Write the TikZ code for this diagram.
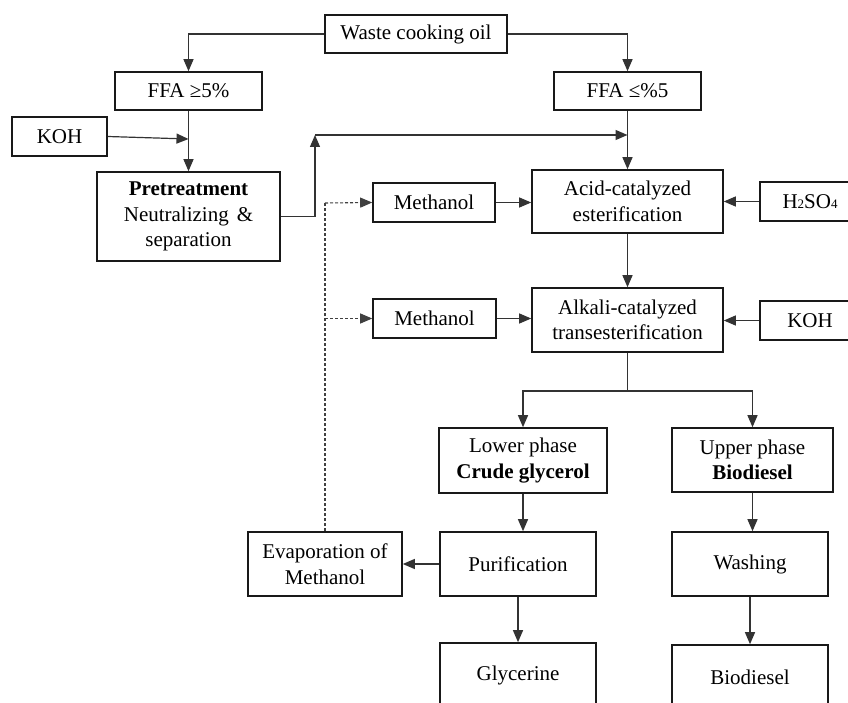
\documentclass[tikz,border=0pt]{standalone}
\usepackage{fontspec}
\setmainfont{Liberation Serif}
\usetikzlibrary{arrows.meta}
\tikzset{
  box/.style={draw=black!90, line width=1.6pt, rectangle, inner sep=0pt, align=center,
    font=\fontsize{21}{25.5}\selectfont, text=black},
  tip/.style={-{Triangle[length=12pt,width=10pt]}},
  arr/.style={draw=black!80, line width=1.2pt, tip},
  ln/.style={draw=black!80, line width=1.2pt},
  dsh/.style={draw=black!75, line width=1.1pt, dash pattern=on 3pt off 2pt},
}
\newcommand{\sbs}[1]{{\fontsize{13}{13}\selectfont #1}}
\begin{document}
\begin{tikzpicture}[x=1pt,y=-1pt]
\useasboundingbox (0,0) rectangle (848,703);
\clip (0,0) rectangle (848,703);
\fill[white] (0,0) rectangle (848,703);
% nodes
\node[box, minimum width=182pt, minimum height=38pt] (waste) at (416,34) {Waste cooking oil};
\node[box, minimum width=147pt, minimum height=38pt] (ffa1) at (188.5,91) {FFA ≥5\%};
\node[box, minimum width=147pt, minimum height=38pt] (ffa2) at (627.5,91) {FFA ≤\%5};
\node[box, minimum width=95pt, minimum height=39pt] (koh1) at (59.5,136.5) {KOH};
\node[box, minimum width=183pt, minimum height=89pt] (pre) at (188.5,216.5) {\textbf{Pretreatment}\\Neutralizing\hspace{8pt}\&\\separation};
\node[box, minimum width=191pt, minimum height=63pt] (acid) at (627.5,201.5) {Acid-catalyzed\\esterification};
\node[box, minimum width=122pt, minimum height=39pt] (meth1) at (434,202.5) {Methanol};
\node[box, minimum width=100pt, minimum height=39pt] (h2so4) at (810,201.5) {H\sbs{2}SO\sbs{4}};
\node[box, minimum width=123pt, minimum height=39pt] (meth2) at (434.5,318.5) {Methanol};
\node[box, minimum width=191pt, minimum height=64pt] (alk) at (627.5,320) {Alkali-catalyzed\\transesterification};
\node[box, minimum width=100pt, minimum height=39pt] (koh2) at (810,320.5) {KOH};
\node[box, minimum width=168pt, minimum height=65pt] (lower) at (523,460.5) {Lower phase\\\textbf{Crude glycerol}};
\node[box, minimum width=161pt, minimum height=64pt] (upper) at (752.5,460) {Upper phase\\\textbf{Biodiesel}};
\node[box, minimum width=156pt, minimum height=64pt] (purif) at (518,564) {Purification};
\node[box, minimum width=156pt, minimum height=64pt] (wash) at (750,564) {Washing};
\node[box, minimum width=154pt, minimum height=64pt] (evap) at (325,564) {Evaporation of\\Methanol};
\node[box, minimum width=156pt, minimum height=64pt] (glyc) at (518,675) {Glycerine};
\node[box, minimum width=156pt, minimum height=64pt] (bio) at (750,677) {Biodiesel};
% coordinates
\coordinate (kohin) at (188.5,139);
\coordinate (up) at (315,135);
\coordinate (merge) at (627.5,135);
\coordinate (split) at (627.5,391);
\coordinate (dtop) at (325,203);
% connectors
\draw[arr] (waste.west) -| (ffa1.north);
\draw[arr] (waste.east) -| (ffa2.north);
\draw[arr] (ffa1.south) -- (pre.north);
\draw[arr] (koh1.east) -- (kohin);
\draw[arr] (pre.east) -| (up);
\draw[arr] (up) -- (merge);
\draw[arr] (ffa2.south) -- (acid.north);
\draw[arr] (meth1.east) -- (meth1.east -| acid.west);
\draw[arr] (h2so4.west) -- (h2so4.west -| acid.east);
\draw[arr] (acid.south) -- (alk.north);
\draw[arr] (meth2.east) -- (meth2.east -| alk.west);
\draw[arr] (koh2.west) -- (koh2.west -| alk.east);
\draw[ln] (alk.south) -- (split);
\draw[arr] (split) -| (lower.north);
\draw[arr] (split) -| (upper.north);
\draw[arr] (lower.south) -- (lower.south |- purif.north);
\draw[arr] (upper.south) -- (upper.south |- wash.north);
\draw[arr] (purif.south) -- (glyc.north);
\draw[arr] (wash.south) -- (bio.north);
\draw[arr] (purif.west) -- (evap.east);
\draw[dsh] (evap.north) -- (dtop);
\draw[dsh, tip] (dtop) -- (meth1.west);
\draw[dsh, tip] (evap.north |- meth2.west) -- (meth2.west);
\end{tikzpicture}
\end{document}
